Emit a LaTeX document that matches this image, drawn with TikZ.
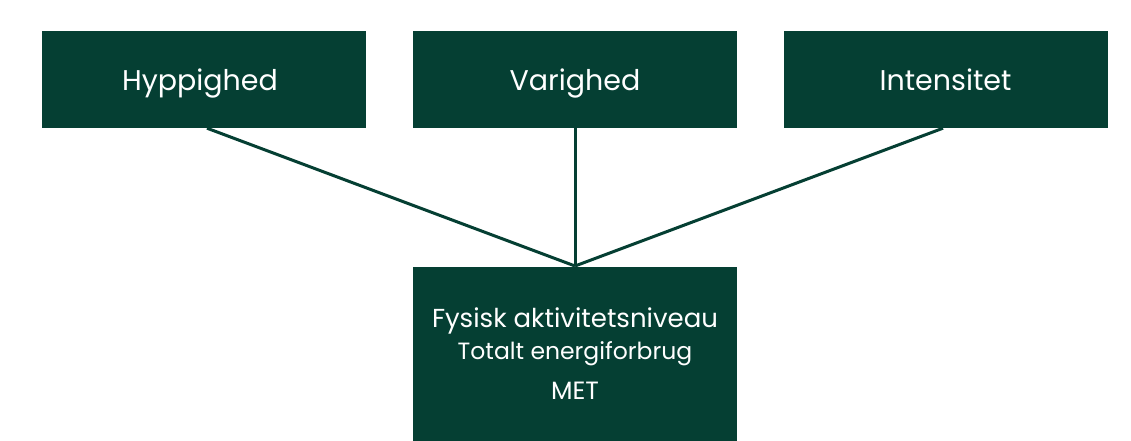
\documentclass[tikz,border=0pt]{standalone}
\usepackage{fontspec}
\setmainfont{Poppins}
\definecolor{dgreen}{HTML}{053F33}
\begin{document}
\begin{tikzpicture}[x=1pt,y=-1pt,
  topbox/.style={fill=dgreen, draw=none, minimum width=324pt, minimum height=97pt, inner sep=0pt, text=white, text height=25pt, text depth=2pt, font=\fontsize{28.5}{34}\selectfont},
  botbox/.style={fill=dgreen, draw=none, minimum width=324pt, minimum height=174pt, inner sep=0pt, text=white, align=center, font=\fontsize{24}{32}\selectfont},
  conn/.style={draw=dgreen, line width=3pt}]
\useasboundingbox (0,0) rectangle (1131,441);
\node[topbox] (hyp) at (204,79.5) {\hspace*{-8pt}Hyppighed};
\node[topbox] (var) at (575,79.5) {Varighed};
\node[topbox] (int) at (945.5,79.5) {Intensitet};
\node[botbox] (fys) at (575,354) {%
  {\fontsize{26}{32}\selectfont Fysisk aktivitetsniveau}\\
  {\fontsize{23.5}{32}\selectfont Totalt energiforbrug}\\[8pt]
  {\fontsize{25}{32}\selectfont MET}};
\coordinate (join) at (575,266);
\draw[conn] (hyp.south -| 207,0) -- (join);
\draw[conn] (var.south) -- (join);
\draw[conn] (int.south -| 943,0) -- (join);
\end{tikzpicture}
\end{document}
